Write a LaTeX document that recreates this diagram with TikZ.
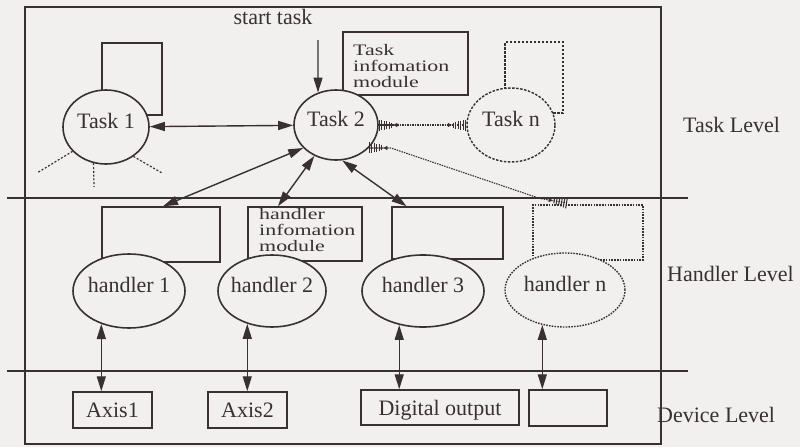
\documentclass[tikz,border=0pt]{standalone}
\usepackage{fontspec}
\setmainfont{Liberation Serif}
\newfontfamily\modulefont[FakeStretch=1.37]{Liberation Serif}
\usetikzlibrary{shapes.geometric,arrows.meta}
\definecolor{ink}{RGB}{58,48,48}
\definecolor{paper}{RGB}{241,240,239}
% zero-width text so the ellipse size is set only by its minimum sizes
\newcommand\ellipsetext[1]{\makebox[0pt]{#1}}
\tikzset{
  Head/.tip={Triangle[length=15pt,width=9pt]},
  HatchTip/.tip={Triangle[length=4pt,width=4pt,sep=1pt]
    Bar[width=5pt,line width=1pt,sep=1.5pt] Bar[width=7pt,line width=1pt,sep=1.5pt]
    Bar[width=8pt,line width=1pt,sep=1.5pt] Bar[width=9pt,line width=1pt,sep=1.5pt]
    Bar[width=10pt,line width=1pt,sep=1.5pt] Bar[width=11pt,line width=1pt]},
}
\begin{document}
\fontsize{22}{24}\selectfont
\begin{tikzpicture}[x=1pt,y=-1pt,
  every node/.style={text=ink,inner sep=0pt},
  frame/.style={draw=ink,line width=1.4pt},
  boxsize/.style 2 args={minimum width=#1,minimum height=#2},
  plainbox/.style={rectangle,draw=ink,line width=1.5pt,inner sep=0pt,
    text height=15pt,text depth=0pt},
  dashedge/.style={dash pattern=on 2.5pt off 1.5pt,line width=1.4pt},
  dottededge/.style={dash pattern=on 1.6pt off 1.2pt,line width=1.4pt},
  oval/.style={ellipse,draw=ink,fill=paper,line width=1.6pt,inner sep=0pt,
    text height=15pt,text depth=13pt},
  modtext/.style={inner sep=0pt,align=left,
    font=\modulefont\fontsize{16}{16}\selectfont},
  link/.style={draw=ink,line width=1.4pt,Head-Head},
  feed/.style={draw=ink,line width=1.4pt,-Head},
  hatchlink/.style={draw=ink,line width=1.1pt,dash pattern=on 1.5pt off 1pt,
    HatchTip-HatchTip},
  spoke/.style={draw=ink,line width=1.2pt,dash pattern=on 2pt off 1.8pt},
]
\fill[paper] (0,0) rectangle (800,447);
\useasboundingbox (0,0) rectangle (800,447);

% outer frame and the dividers between the levels
\draw[frame] (25,7) rectangle (661,444);
\draw[frame] (7,198) -- (688,198);
\draw[frame] (7,371) -- (688,371);

% module boxes (partly hidden behind the ovals)
\node[plainbox,boxsize={60pt}{72pt}] (t1box) at (132,79) {};
\node[plainbox,boxsize={125pt}{63pt}] (t2box) at (405.5,63.5) {};
\node[plainbox,dashedge,boxsize={58pt}{71pt}] (tnbox) at (534,77.5) {};
\node[plainbox,boxsize={118pt}{55pt}] (h1box) at (161,234.5) {};
\node[plainbox,boxsize={114pt}{54pt}] (h2box) at (305,234) {};
\node[plainbox,boxsize={111pt}{52pt}] (h3box) at (447.5,233) {};
\node[plainbox,dottededge,boxsize={110pt}{55pt}] (hnbox) at (588,232.5) {};

\node[modtext,anchor=north west] (t2info) at (353,44) {Task\\infomation\\module};
\node[modtext,anchor=north west] (h2info) at (259,208) {handler\\infomation\\module};

% tasks
\node[oval,boxsize={86pt}{74pt}] (t1) at (106,127) {\ellipsetext{Task 1}};
\node[oval,boxsize={84pt}{70pt}] (t2) at (336,125) {\ellipsetext{Task 2}};
\node[oval,dashedge,boxsize={88pt}{74pt}] (tn) at (511,125) {\ellipsetext{Task n}};

% handlers
\node[oval,boxsize={112pt}{74pt}] (h1) at (129,291) {\ellipsetext{handler 1}};
\node[oval,boxsize={108pt}{72pt}] (h2) at (272,291) {\ellipsetext{handler 2}};
\node[oval,boxsize={122pt}{72pt}] (h3) at (423,291) {\ellipsetext{handler 3}};
\node[oval,dottededge,boxsize={120pt}{74pt}] (hn) at (565,290) {\ellipsetext{handler n}};

% devices
\node[plainbox,boxsize={79pt}{36pt}] (ax1) at (112.5,410) {Axis1};
\node[plainbox,boxsize={79pt}{36pt}] (ax2) at (247.5,410) {Axis2};
\node[plainbox,boxsize={158pt}{35pt}] (dout) at (440,407.5) {Digital output};
\node[plainbox,boxsize={78pt}{36pt}] (dn) at (568,408) {};

% captions
\node[anchor=base] (start) at (273,24) {start task};
\node[anchor=base west] (tasklevel) at (683,132) {Task Level};
\node[anchor=base west] (handlerlevel) at (667,281) {Handler Level};
\node[anchor=base west] (devicelevel) at (657,422) {Device Level};

% free ends
\coordinate (startfoot) at (318,40);
\coordinate (sp1) at (37,173);
\coordinate (sp2) at (94,187);
\coordinate (sp3) at (162,173);
\coordinate (bend1) at (540,198.5);
\coordinate (bend2) at (567,203);

% connectors
\draw[feed] (startfoot) -- (t2.119.7);
\draw[link] (t1) -- (t2);
\draw[hatchlink] (t2) -- (tn);
\draw[hatchlink] (t2.-35) -- ++(22,0) -- (bend1) -- (bend2);

\draw[spoke] (t1.-144) -- (sp1);
\draw[spoke] (t1.-109) -- (sp2);
\draw[spoke] (t1.-47.6) -- (sp3);

\draw[link] (t2.215) -- ([xshift=2pt]h1box.north);
\draw[link] (t2.235) -- ([xshift=-27pt]h2box.north);
\draw[link] (t2.-80) -- ([xshift=-41pt]h3box.north);

\draw[link] (h1.230) -- (h1.230 |- ax1.north);
\draw[link] (h2.233.3) -- (h2.233.3 |- ax2.north);
\draw[link] (h3.235.4) -- (h3.235.4 |- dout.north);
\draw[link] (hn.237.4) -- (hn.237.4 |- dn.north);
\end{tikzpicture}
\end{document}
